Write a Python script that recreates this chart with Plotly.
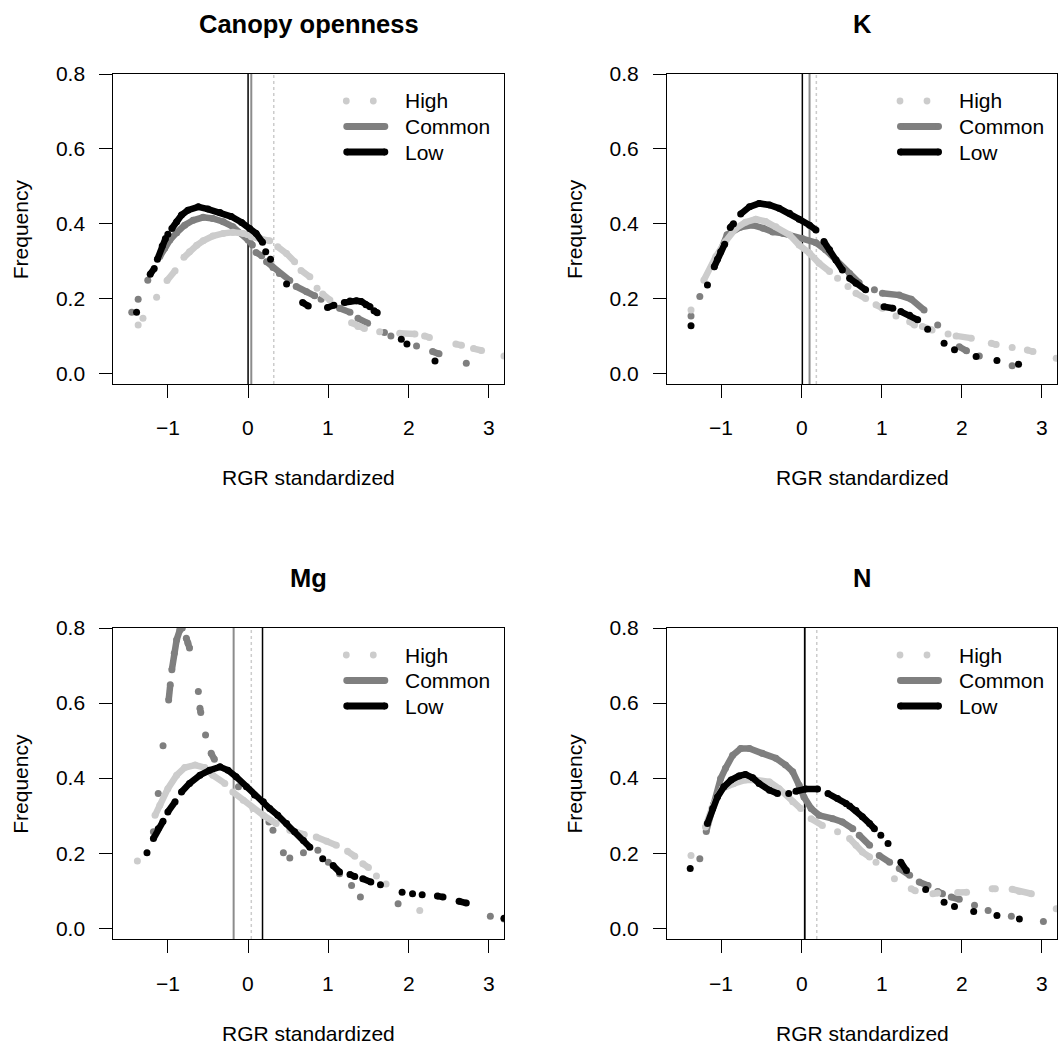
import plotly.graph_objects as go

# ------------------------------------------------------------------ data
PANEL_TITLES = ["Canopy openness", "K", "Mg", "N"]
SERIES_NAMES = ["High", "Common", "Low"]
X_TICKS = [-1, 0, 1, 2, 3]
Y_TICKS = [0.0, 0.2, 0.4, 0.6, 0.8]
X_LABEL = "RGR standardized"
Y_LABEL = "Frequency"

# each series: list of runs of points (gaps between runs)
CO_HIGH = [[(-1.37, 0.129)], [(-1.31, 0.147)], [(-1.14, 0.203)], [(-1.01, 0.248), (-0.91, 0.274)],
           [(-0.80, 0.310), (-0.73, 0.325), (-0.64, 0.342), (-0.56, 0.354), (-0.44, 0.367), (-0.31, 0.374),
            (-0.19, 0.377), (-0.06, 0.374), (0.0, 0.370)],
           [(0.04, 0.365), (0.15, 0.360), (0.27, 0.354)], [(0.37, 0.338), (0.48, 0.320), (0.58, 0.298)],
           [(0.66, 0.275), (0.77, 0.258)], [(0.86, 0.227)], [(0.93, 0.212), (1.02, 0.196)],
           [(1.29, 0.135), (1.37, 0.125), (1.45, 0.120)], [(1.64, 0.111)], [(1.89, 0.107), (2.08, 0.105)],
           [(2.20, 0.100), (2.26, 0.096)], [(2.59, 0.078), (2.66, 0.075)], [(2.81, 0.066), (2.91, 0.061)],
           [(3.19, 0.046)]]
CO_COMMON = [[(-1.45, 0.163)], [(-1.37, 0.198)], [(-1.25, 0.249)],
             [(-1.10, 0.312), (-1.04, 0.334), (-0.975, 0.356), (-0.89, 0.376), (-0.79, 0.396), (-0.685, 0.409),
              (-0.56, 0.417), (-0.44, 0.414), (-0.31, 0.405), (-0.19, 0.392), (-0.08, 0.374), (0.0, 0.356),
              (0.054, 0.343)],
             [(0.10, 0.323), (0.17, 0.314)], [(0.23, 0.298), (0.31, 0.283), (0.39, 0.267), (0.52, 0.248)],
             [(0.60, 0.232), (0.73, 0.218), (0.83, 0.207)], [(0.91, 0.198)], [(1.14, 0.174), (1.27, 0.163)],
             [(1.37, 0.147), (1.49, 0.134)], [(1.70, 0.109)], [(1.78, 0.100)], [(2.10, 0.073)],
             [(2.30, 0.058), (2.38, 0.052)], [(2.72, 0.027)]]
CO_LOW = [[(-1.39, 0.163)], [(-1.22, 0.265), (-1.17, 0.280)], [(-1.13, 0.305), (-1.07, 0.340), (-1.03, 0.360)],
          [(-1.00, 0.372)],
          [(-0.95, 0.387), (-0.89, 0.405), (-0.83, 0.423), (-0.75, 0.436), (-0.62, 0.445), (-0.50, 0.439),
           (-0.35, 0.430), (-0.21, 0.419), (-0.08, 0.403), (0.02, 0.387), (0.10, 0.374), (0.18, 0.350)],
          [(0.22, 0.325)], [(0.28, 0.305)], [(0.48, 0.239)], [(0.68, 0.189), (0.75, 0.180)],
          [(0.99, 0.176), (1.07, 0.182)],
          [(1.20, 0.189), (1.27, 0.193), (1.35, 0.194), (1.41, 0.192), (1.47, 0.183), (1.52, 0.178)],
          [(1.57, 0.167), (1.61, 0.162)], [(1.91, 0.091)], [(1.98, 0.078)], [(2.33, 0.033)]]

K_HIGH = [[(-1.38, 0.169)],
          [(-1.22, 0.249), (-1.07, 0.312), (-0.95, 0.352), (-0.82, 0.388), (-0.70, 0.404), (-0.57, 0.412),
           (-0.45, 0.406), (-0.32, 0.392), (-0.15, 0.370), (-0.03, 0.343), (0.10, 0.321), (0.22, 0.294),
           (0.35, 0.272)],
          [(0.45, 0.254)], [(0.58, 0.232)], [(0.68, 0.214), (0.80, 0.200)], [(0.93, 0.183), (1.01, 0.174)],
          [(1.18, 0.153)], [(1.35, 0.138), (1.41, 0.129)], [(1.51, 0.125), (1.63, 0.116)], [(1.83, 0.105)],
          [(1.93, 0.100), (2.12, 0.094)], [(2.37, 0.080), (2.43, 0.077)], [(2.63, 0.069)],
          [(2.82, 0.062), (2.89, 0.058)], [(3.18, 0.040)]]
K_COMMON = [[(-1.38, 0.153)], [(-1.27, 0.205)],
            [(-1.09, 0.285), (-0.93, 0.370), (-0.77, 0.390), (-0.61, 0.396), (-0.48, 0.388), (-0.36, 0.378),
             (-0.23, 0.374), (-0.11, 0.365), (0.01, 0.360), (0.18, 0.349), (0.30, 0.330), (0.43, 0.303),
             (0.60, 0.267), (0.72, 0.242)],
            [(0.91, 0.223)], [(1.01, 0.214), (1.22, 0.209), (1.37, 0.198), (1.53, 0.169)], [(1.70, 0.129)],
            [(1.97, 0.071), (2.06, 0.060)], [(2.22, 0.046)], [(2.63, 0.020)]]
K_LOW = [[(-1.38, 0.127)], [(-1.175, 0.236)], [(-1.09, 0.285), (-1.05, 0.305), (-1.01, 0.325), (-0.96, 0.345)],
         [(-0.89, 0.390), (-0.85, 0.400)],
         [(-0.76, 0.426), (-0.65, 0.445), (-0.53, 0.454), (-0.40, 0.450), (-0.28, 0.441), (-0.15, 0.428),
          (-0.03, 0.412), (0.10, 0.396), (0.18, 0.383)],
         [(0.28, 0.352), (0.35, 0.330), (0.43, 0.303), (0.51, 0.276)], [(0.60, 0.254), (0.68, 0.241), (0.80, 0.223)],
         [(1.03, 0.178), (1.14, 0.174)], [(1.24, 0.165), (1.35, 0.155), (1.45, 0.143)], [(1.575, 0.118)],
         [(1.78, 0.080)], [(1.91, 0.063)], [(2.18, 0.045)], [(2.44, 0.034)], [(2.71, 0.024)]]

MG_HIGH = [[(-1.38, 0.179)],
           [(-1.16, 0.301), (-1.10, 0.328), (-1.00, 0.372), (-0.89, 0.408), (-0.79, 0.428), (-0.66, 0.435),
            (-0.54, 0.428), (-0.44, 0.408), (-0.29, 0.386)],
           [(-0.19, 0.363), (-0.06, 0.341), (0.06, 0.319), (0.19, 0.301), (0.35, 0.279)],
           [(0.52, 0.261), (0.60, 0.255), (0.70, 0.250)], [(0.85, 0.243), (0.98, 0.232), (1.10, 0.221)],
           [(1.24, 0.205), (1.33, 0.192)], [(1.43, 0.172), (1.50, 0.162)], [(1.60, 0.139)], [(1.72, 0.118)],
           [(2.14, 0.047)]]
MG_COMMON = [[(-1.18, 0.257)], [(-1.12, 0.359)], [(-1.06, 0.486)], [(-0.99, 0.608), (-0.97, 0.649)],
             [(-0.95, 0.689), (-0.92, 0.733), (-0.89, 0.769), (-0.85, 0.795), (-0.82, 0.800)],
             [(-0.77, 0.773), (-0.75, 0.760), (-0.73, 0.747)], [(-0.62, 0.631)],
             [(-0.60, 0.586), (-0.59, 0.575)], [(-0.53, 0.515)], [(-0.46, 0.466), (-0.42, 0.450)],
             [(-0.12, 0.377)], [(0.26, 0.283)], [(0.31, 0.261)], [(0.44, 0.201)], [(0.52, 0.187)],
             [(0.69, 0.201)], [(0.87, 0.208)], [(1.00, 0.176)], [(1.14, 0.145)], [(1.29, 0.114)],
             [(1.40, 0.083)], [(1.87, 0.065)], [(3.02, 0.032)], [(3.19, 0.025)]]
MG_LOW = [[(-1.26, 0.201)], [(-1.18, 0.239), (-1.12, 0.265), (-1.06, 0.285)], [(-1.00, 0.310), (-0.91, 0.337)],
          [(-0.83, 0.363), (-0.73, 0.386), (-0.60, 0.408), (-0.48, 0.421), (-0.35, 0.430), (-0.25, 0.421),
           (-0.15, 0.404), (-0.02, 0.377), (0.08, 0.355), (0.19, 0.337), (0.27, 0.319), (0.37, 0.301),
           (0.48, 0.279), (0.58, 0.257), (0.69, 0.234), (0.77, 0.216)],
          [(0.93, 0.185)], [(1.06, 0.167), (1.14, 0.150)], [(1.27, 0.143), (1.33, 0.138)],
          [(1.43, 0.132), (1.53, 0.123)], [(1.65, 0.116)], [(1.92, 0.096)], [(2.05, 0.092)], [(2.17, 0.089)],
          [(2.36, 0.086), (2.43, 0.083)], [(2.63, 0.072), (2.72, 0.067)], [(3.19, 0.027)]]

N_HIGH = [[(-1.38, 0.194)],
          [(-1.20, 0.270), (-1.12, 0.320), (-1.05, 0.350), (-0.99, 0.372), (-0.85, 0.385), (-0.70, 0.395),
           (-0.57, 0.395), (-0.40, 0.390), (-0.28, 0.372), (-0.11, 0.337), (-0.01, 0.319)],
          [(0.12, 0.292), (0.26, 0.274)], [(0.45, 0.257)], [(0.60, 0.239), (0.68, 0.221), (0.76, 0.203), (0.85, 0.190)],
          [(0.93, 0.176)], [(1.16, 0.132)], [(1.37, 0.105), (1.42, 0.100)], [(1.64, 0.092), (1.70, 0.094)],
          [(1.95, 0.095), (2.06, 0.096)], [(2.38, 0.105), (2.42, 0.105)], [(2.63, 0.104), (2.72, 0.098), (2.87, 0.092)],
          [(3.18, 0.052)]]
N_COMMON = [[(-1.27, 0.185)],
            [(-1.19, 0.258), (-1.10, 0.330), (-1.01, 0.399), (-0.95, 0.426), (-0.86, 0.461), (-0.76, 0.479),
             (-0.65, 0.479), (-0.49, 0.466), (-0.32, 0.453), (-0.20, 0.435), (-0.11, 0.417), (-0.03, 0.381),
             (0.03, 0.350), (0.12, 0.319), (0.22, 0.301), (0.39, 0.292), (0.51, 0.283), (0.64, 0.265)],
            [(0.72, 0.248), (0.85, 0.221)], [(0.97, 0.194), (1.10, 0.176)], [(1.22, 0.159), (1.35, 0.141)],
            [(1.47, 0.123), (1.58, 0.114)], [(1.70, 0.098), (1.76, 0.092)], [(1.87, 0.083), (1.97, 0.077)],
            [(2.16, 0.061)], [(2.33, 0.047)], [(2.62, 0.032)], [(3.02, 0.018)]]
N_LOW = [[(-1.39, 0.159)],
         [(-1.175, 0.279), (-1.11, 0.319), (-1.05, 0.350), (-0.97, 0.377), (-0.88, 0.395), (-0.78, 0.406),
          (-0.70, 0.410), (-0.61, 0.401), (-0.53, 0.386), (-0.40, 0.368), (-0.30, 0.359)],
         [(-0.16, 0.359)], [(-0.07, 0.365), (0.05, 0.371), (0.20, 0.371)],
         [(0.33, 0.359), (0.45, 0.346), (0.56, 0.332)],
         [(0.60, 0.326), (0.68, 0.314), (0.76, 0.297), (0.85, 0.279), (0.91, 0.265)],
         [(0.99, 0.248)], [(1.08, 0.226)], [(1.24, 0.176), (1.31, 0.154)], [(1.55, 0.103)], [(1.78, 0.069)],
         [(1.91, 0.058)], [(2.15, 0.045)], [(2.44, 0.034)], [(2.72, 0.025)]]

# vertical reference lines (black solid, gray solid, light-gray dotted)
VLINE_LOW = [0.0, 0.01, 0.18, 0.04]
VLINE_COMMON = [0.04, 0.10, -0.18, 0.04]
VLINE_HIGH = [0.32, 0.185, 0.04, 0.19]

PANEL_DATA = [(CO_HIGH, CO_COMMON, CO_LOW), (K_HIGH, K_COMMON, K_LOW),
              (MG_HIGH, MG_COMMON, MG_LOW), (N_HIGH, N_COMMON, N_LOW)]

# ------------------------------------------------------------------ style / layout
W, H = 1058, 1048
FONT = "Liberation Sans, Arial, Helvetica, sans-serif"
COL = {"High": "#cccccc", "Common": "#7f7f7f", "Low": "#000000"}
X_RANGE = [-1.68, 3.19]
Y_RANGE = [-0.0286, 0.8]
XDOM = [[113.3 / W, 504 / W], [667 / W, 1057 / W]]
YDOM = [[1 - 384 / H, 1 - 74 / H], [1 - 939 / H, 1 - 628 / H]]


def flatten(runs):
    xs, ys = [], []
    for k, run in enumerate(runs):
        if k:
            xs.append(None)
            ys.append(None)
        for x, y in run:
            xs.append(x)
            ys.append(y)
    return xs, ys


def tick_text(v):
    return ("\u2212" if v < 0 else "") + str(abs(v))


fig = go.Figure()
shapes, annotations = [], []

for i in range(4):
    col, row = i % 2, i // 2
    ax = "" if i == 0 else str(i + 1)
    xref, yref = "x" + ax, "y" + ax
    high, common, low = PANEL_DATA[i]
    for name, runs in (("Common", common), ("High", high), ("Low", low)):
        xs, ys = flatten(runs)
        fig.add_trace(go.Scatter(
            x=xs, y=ys, mode="lines+markers", xaxis=xref, yaxis=yref, showlegend=False,
            connectgaps=False, line=dict(color=COL[name], width=6.5),
            marker=dict(color=COL[name], size=7, line=dict(width=0)), hoverinfo="skip"))

    common_axis = dict(showline=True, mirror=True, linecolor="black", linewidth=1, ticks="outside",
                       ticklen=13, tickwidth=1, tickcolor="black", showgrid=False, zeroline=False,
                       automargin=False, tickfont=dict(size=21, color="black", family=FONT))
    fig.layout["xaxis" + ax] = dict(common_axis, domain=XDOM[col], range=X_RANGE, tickvals=X_TICKS,
                                    anchor=yref, showticklabels=False)
    fig.layout["yaxis" + ax] = dict(common_axis, domain=YDOM[row], range=Y_RANGE, tickvals=Y_TICKS,
                                    tickformat=".1f", anchor=xref, ticklabelstandoff=10)

    # x tick labels placed at the axis tick values
    for v in X_TICKS:
        annotations.append(dict(xref=xref, yref="paper", x=v, y=YDOM[row][0] - 44 / H,
                                text=tick_text(v), showarrow=False, xanchor="center", yanchor="middle",
                                font=dict(size=21, color="black", family=FONT)))

    # vertical lines
    for val, color, width, dash in ((VLINE_HIGH[i], "#cccccc", 1.5, "dot"),
                                    (VLINE_COMMON[i], "#8c8c8c", 2, "solid"),
                                    (VLINE_LOW[i], "black", 1.5, "solid")):
        shapes.append(dict(type="line", xref=xref, yref=yref + " domain", x0=val, x1=val, y0=0, y1=1,
                           line=dict(color=color, width=width, dash=dash), layer="below"))

    # legend (drawn inside the panel)
    dx, dy = XDOM[col][1] - XDOM[col][0], YDOM[row][1] - YDOM[row][0]
    pxw, pxh = dx * W, dy * H
    lx0, lx1 = 230 / pxw, 275 / pxw
    rows_y = [1 - 27 / pxh, 1 - 52.5 / pxh, 1 - 78 / pxh]
    rx, ry = 3.4 / pxw, 3.4 / pxh
    dref = dict(xref=xref + " domain", yref=yref + " domain")
    for cx in (233 / pxw, 260 / pxw):
        shapes.append(dict(type="circle", **dref, x0=cx - rx, x1=cx + rx, y0=rows_y[0] - ry,
                           y1=rows_y[0] + ry, fillcolor=COL["High"], line=dict(width=0)))
    for name, yy in (("Common", rows_y[1]), ("Low", rows_y[2])):
        shapes.append(dict(type="line", **dref, x0=lx0 + rx, x1=lx1 - rx, y0=yy, y1=yy,
                           line=dict(color=COL[name], width=7)))
        for cx in (lx0 + rx, lx1 - rx):
            shapes.append(dict(type="circle", **dref, x0=cx - rx, x1=cx + rx, y0=yy - ry, y1=yy + ry,
                               fillcolor=COL[name], line=dict(width=0)))
    for name, yy in zip(SERIES_NAMES, rows_y):
        annotations.append(dict(**dref, x=290 / pxw, y=yy, text=name, showarrow=False, xanchor="left",
                                yanchor="middle", font=dict(size=21, color="black", family=FONT)))

    # titles
    xc = (XDOM[col][0] + XDOM[col][1]) / 2
    yc = (YDOM[row][0] + YDOM[row][1]) / 2
    annotations.append(dict(xref="paper", yref="paper", x=xc, y=YDOM[row][1] + 50 / H,
                            text="<b>" + PANEL_TITLES[i] + "</b>", showarrow=False, xanchor="center",
                            yanchor="middle", font=dict(size=25.5, color="black", family=FONT)))
    annotations.append(dict(xref="paper", yref="paper", x=xc, y=YDOM[row][0] - 94 / H,
                            text=X_LABEL, showarrow=False, xanchor="center", yanchor="middle",
                            font=dict(size=21, color="black", family=FONT)))
    annotations.append(dict(xref="paper", yref="paper", x=XDOM[col][0] - 93 / W, y=yc,
                            text=Y_LABEL, showarrow=False, xanchor="center", yanchor="middle",
                            textangle=-90, font=dict(size=21, color="black", family=FONT)))

fig.update_layout(width=W, height=H, margin=dict(l=0, r=0, t=0, b=0, autoexpand=False),
                  paper_bgcolor="white", plot_bgcolor="white", shapes=shapes, annotations=annotations,
                  font=dict(family=FONT, color="black"), showlegend=False)

fig.write_html("out.html", config={"displayModeBar": False},
               post_script="document.body.style.margin='0px';")
